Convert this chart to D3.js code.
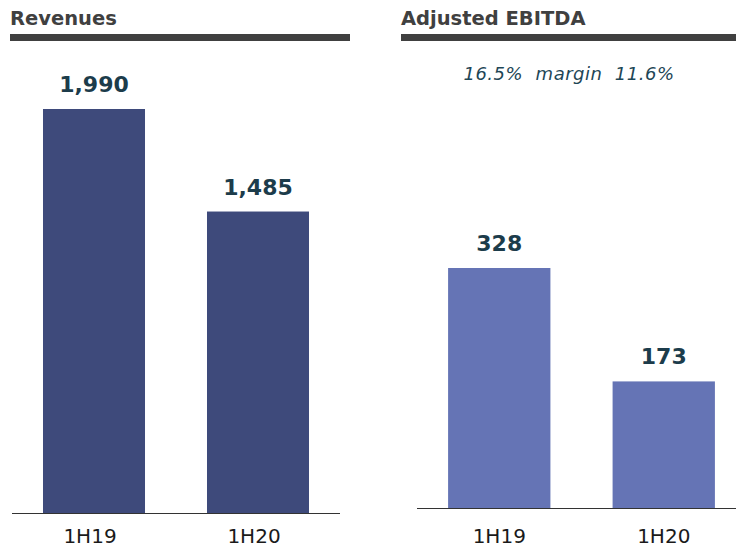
<!DOCTYPE html>
<html>
<head>
<meta charset="utf-8">
<script src="https://cdn.jsdelivr.net/npm/d3@7"></script>
<style>
  body { margin: 0; background: #fff; }
  svg text { font-family: "DejaVu Sans", Verdana, sans-serif; }
</style>
</head>
<body>
<div id="chart"></div>
<script>
// data
var periods = ["1H19", "1H20"];
var revenues = [1990, 1485];
var ebitda = [328, 173];
var margins = ["16.5%", "11.6%"];

var svg = d3.select("#chart")
  .append("svg")
    .attr("width", 736)
    .attr("height", 548);

// one panel = title + rule + bars + value labels + category labels
function panel(opt) {
  var g = svg.append("g");

  g.append("text")
    .attr("x", opt.titleX)
    .attr("y", 25)
    .style("font-size", "19.5px")
    .style("font-weight", "bold")
    .style("fill", "#404040")
    .text(opt.title);

  g.append("rect")
    .attr("x", opt.titleX)
    .attr("y", 34)
    .attr("width", opt.ruleEnd - opt.titleX)
    .attr("height", 7)
    .style("fill", "#404040");

  var x = d3.scaleBand()
    .domain(periods)
    .range(opt.xRange)
    .paddingInner(0.378)
    .paddingOuter(0.189);

  var y = d3.scaleLinear()
    .domain([0, opt.values[0]])
    .range([opt.base, opt.topFirst]);

  g.selectAll(".bar")
    .data(opt.values)
    .enter().append("rect")
      .attr("x", function(d, i) { return x(periods[i]); })
      .attr("y", function(d) { return y(d); })
      .attr("width", x.bandwidth())
      .attr("height", function(d) { return opt.base - y(d); })
      .style("fill", opt.color);

  g.selectAll(".val")
    .data(opt.values)
    .enter().append("text")
      .attr("x", function(d, i) { return x(periods[i]) + x.bandwidth() / 2; })
      .attr("y", function(d) { return y(d) - 17; })
      .attr("text-anchor", "middle")
      .style("font-size", "22px")
      .style("font-weight", "bold")
      .style("fill", "#1c3c4b")
      .text(function(d) { return d3.format(",")(d); });

  g.append("line")
    .attr("x1", opt.axis[0])
    .attr("x2", opt.axis[1])
    .attr("y1", opt.base + 0.5)
    .attr("y2", opt.base + 0.5)
    .style("stroke", "#333")
    .style("stroke-width", 1);

  g.selectAll(".cat")
    .data(periods)
    .enter().append("text")
      .attr("x", function(d) { return x(d) + x.bandwidth() / 2 + opt.catShift; })
      .attr("y", 543)
      .attr("text-anchor", "middle")
      .style("font-size", "20px")
      .style("fill", "#1a1a1a")
      .text(function(d) { return d; });

  return g;
}

panel({
  title: "Revenues", titleX: 10, ruleEnd: 350,
  values: revenues, color: "#3e4a7b",
  xRange: [12, 340], axis: [12, 340],
  base: 513, topFirst: 109, catShift: -4
});

var right = panel({
  title: "Adjusted EBITDA", titleX: 401, ruleEnd: 736,
  values: ebitda, color: "#6574b5",
  xRange: [417, 746], axis: [417, 736],
  base: 508, topFirst: 268, catShift: 0
});

right.append("text")
  .attr("x", 569)
  .attr("y", 80)
  .attr("text-anchor", "middle")
  .attr("xml:space", "preserve")
  .style("white-space", "pre")
  .style("font-size", "18px")
  .style("font-style", "italic")
  .style("letter-spacing", "0.5px")
  .style("fill", "#1e4656")
  .text(margins[0] + "  margin  " + margins[1]);
</script>
</body>
</html>
